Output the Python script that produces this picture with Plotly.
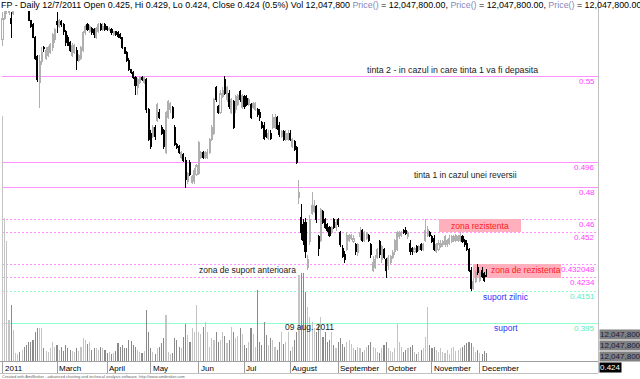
import plotly.graph_objects as go
import pandas as pd

# ---------------- data ----------------
trading_start = "2011-01-25"
trading_end = "2011-12-07"
holidays = ["2011-04-25", "2011-06-13", "2011-08-15", "2011-12-01"]

open_ = [0.573,0.586,0.591,0.590,0.586,0.589,0.593,0.596,0.601,0.598,0.602,0.598,0.595,0.585,0.582,0.574,0.562,0.546,0.559,0.568,
         0.561,0.563,0.565,0.568,0.573,0.584,0.581,0.584,0.582,0.578,0.574,0.571,0.563,0.565,0.566,0.560,0.561,0.566,0.577,0.582,
         0.578,0.580,0.579,0.574,0.578,0.582,0.579,0.582,0.581,0.579,0.579,0.576,0.578,0.577,0.576,0.574,0.568,0.565,0.560,0.554,
         0.552,0.549,0.543,0.546,0.549,0.546,0.548,0.529,0.514,0.512,0.518,0.522,0.527,0.518,0.516,0.502,0.524,0.529,0.530,0.518,
         0.507,0.506,0.499,0.501,0.497,0.484,0.496,0.483,0.484,0.488,0.489,0.499,0.502,0.499,0.499,0.502,0.510,0.514,0.543,0.531,
         0.527,0.537,0.548,0.535,0.539,0.527,0.534,0.529,0.532,0.540,0.530,0.537,0.536,0.532,0.532,0.530,0.529,0.529,0.527,0.521,
         0.519,0.516,0.511,0.514,0.518,0.518,0.524,0.519,0.512,0.515,0.510,0.510,0.514,0.506,0.509,0.505,0.474,0.461,0.457,0.458,
         0.430,0.446,0.464,0.465,0.468,0.449,0.447,0.465,0.460,0.457,0.455,0.452,0.460,0.455,0.460,0.452,0.442,0.438,0.441,0.447,
         0.448,0.446,0.444,0.439,0.449,0.453,0.447,0.448,0.450,0.444,0.428,0.430,0.436,0.446,0.435,0.441,0.435,0.431,0.433,0.436,
         0.440,0.441,0.449,0.450,0.453,0.453,0.449,0.445,0.442,0.440,0.443,0.441,0.444,0.441,0.447,0.450,0.452,0.449,0.448,0.440,
         0.441,0.443,0.444,0.444,0.444,0.445,0.446,0.447,0.447,0.447,0.447,0.449,0.447,0.445,0.441,0.428,0.417,0.421,0.430,0.422,
         0.428,0.426,0.425]
high = [0.590,0.596,0.598,0.595,0.590,0.595,0.600,0.603,0.603,0.603,0.603,0.600,0.596,0.585,0.583,0.575,0.563,0.563,0.568,0.569,
        0.568,0.569,0.571,0.577,0.580,0.590,0.586,0.585,0.583,0.579,0.576,0.572,0.571,0.570,0.568,0.564,0.569,0.578,0.582,0.583,
        0.582,0.581,0.580,0.581,0.583,0.583,0.583,0.583,0.581,0.581,0.580,0.578,0.578,0.578,0.577,0.574,0.568,0.566,0.561,0.554,
        0.553,0.550,0.549,0.550,0.550,0.550,0.549,0.530,0.516,0.519,0.519,0.533,0.529,0.519,0.517,0.528,0.535,0.534,0.531,0.519,
        0.508,0.507,0.503,0.502,0.499,0.490,0.497,0.488,0.492,0.495,0.509,0.503,0.503,0.503,0.504,0.511,0.519,0.536,0.544,0.532,
        0.541,0.543,0.550,0.544,0.541,0.536,0.535,0.538,0.539,0.541,0.539,0.538,0.538,0.536,0.533,0.534,0.534,0.530,0.529,0.522,
        0.521,0.517,0.516,0.516,0.526,0.526,0.525,0.521,0.516,0.516,0.516,0.516,0.516,0.511,0.510,0.506,0.485,0.470,0.460,0.461,
        0.438,0.463,0.477,0.472,0.469,0.450,0.467,0.466,0.461,0.458,0.456,0.456,0.461,0.460,0.461,0.453,0.444,0.440,0.452,0.451,
        0.451,0.450,0.445,0.445,0.455,0.454,0.453,0.452,0.451,0.445,0.437,0.438,0.442,0.447,0.444,0.442,0.436,0.438,0.438,0.441,
        0.448,0.453,0.453,0.453,0.454,0.455,0.453,0.447,0.443,0.443,0.444,0.444,0.445,0.445,0.460,0.456,0.453,0.450,0.450,0.445,
        0.447,0.447,0.447,0.450,0.448,0.450,0.450,0.450,0.451,0.450,0.452,0.450,0.448,0.447,0.442,0.430,0.423,0.428,0.432,0.428,
        0.430,0.427,0.429]
low = [0.569,0.585,0.589,0.588,0.574,0.588,0.592,0.595,0.596,0.596,0.595,0.593,0.585,0.580,0.574,0.560,0.546,0.530,0.557,0.565,
       0.560,0.562,0.564,0.566,0.571,0.577,0.580,0.581,0.576,0.569,0.569,0.565,0.562,0.564,0.554,0.559,0.560,0.565,0.576,0.578,
       0.577,0.576,0.574,0.573,0.577,0.578,0.578,0.578,0.578,0.578,0.576,0.575,0.575,0.574,0.573,0.567,0.564,0.559,0.553,0.551,
       0.548,0.538,0.538,0.545,0.547,0.545,0.527,0.509,0.504,0.511,0.510,0.521,0.523,0.513,0.504,0.501,0.523,0.527,0.523,0.506,
       0.504,0.501,0.498,0.496,0.480,0.482,0.487,0.482,0.482,0.487,0.488,0.498,0.498,0.498,0.498,0.501,0.509,0.513,0.534,0.526,
       0.526,0.536,0.538,0.534,0.529,0.526,0.517,0.527,0.531,0.534,0.529,0.529,0.531,0.531,0.523,0.529,0.528,0.524,0.522,0.517,
       0.510,0.511,0.510,0.510,0.517,0.517,0.516,0.512,0.511,0.509,0.509,0.509,0.509,0.505,0.503,0.495,0.470,0.447,0.444,0.436,
       0.428,0.444,0.463,0.464,0.458,0.437,0.446,0.457,0.454,0.452,0.449,0.451,0.454,0.453,0.455,0.443,0.436,0.433,0.440,0.446,
       0.447,0.445,0.438,0.437,0.447,0.446,0.446,0.447,0.446,0.436,0.427,0.429,0.435,0.436,0.433,0.435,0.423,0.428,0.432,0.435,
       0.438,0.440,0.448,0.449,0.451,0.450,0.448,0.438,0.438,0.439,0.439,0.440,0.440,0.440,0.446,0.449,0.449,0.445,0.440,0.439,
       0.440,0.442,0.443,0.443,0.443,0.444,0.445,0.446,0.446,0.446,0.446,0.445,0.443,0.440,0.427,0.415,0.416,0.420,0.425,0.421,
       0.423,0.421,0.424]
close = [0.586,0.593,0.596,0.591,0.583,0.591,0.596,0.601,0.598,0.602,0.598,0.595,0.585,0.581,0.574,0.561,0.548,0.559,0.565,0.567,
         0.566,0.568,0.570,0.576,0.579,0.582,0.585,0.582,0.578,0.571,0.569,0.566,0.569,0.569,0.560,0.563,0.568,0.577,0.581,0.579,
         0.581,0.577,0.576,0.580,0.582,0.579,0.581,0.579,0.579,0.580,0.577,0.578,0.576,0.575,0.574,0.568,0.564,0.560,0.554,0.552,
         0.549,0.544,0.548,0.549,0.548,0.549,0.529,0.510,0.506,0.518,0.512,0.532,0.524,0.514,0.506,0.527,0.534,0.533,0.524,0.507,
         0.505,0.502,0.502,0.497,0.485,0.489,0.488,0.487,0.491,0.494,0.508,0.502,0.499,0.502,0.502,0.510,0.518,0.535,0.535,0.527,
         0.539,0.541,0.539,0.543,0.531,0.535,0.518,0.537,0.538,0.535,0.538,0.531,0.532,0.535,0.524,0.533,0.533,0.526,0.524,0.518,
         0.511,0.512,0.514,0.511,0.524,0.524,0.517,0.513,0.515,0.510,0.514,0.514,0.510,0.510,0.504,0.496,0.477,0.452,0.447,0.440,
         0.435,0.460,0.469,0.469,0.460,0.442,0.466,0.458,0.455,0.453,0.450,0.455,0.455,0.458,0.457,0.444,0.437,0.435,0.450,0.450,
         0.450,0.448,0.440,0.444,0.452,0.447,0.452,0.451,0.447,0.438,0.433,0.435,0.441,0.438,0.443,0.436,0.428,0.436,0.437,0.439,
         0.447,0.452,0.452,0.452,0.452,0.451,0.452,0.440,0.440,0.442,0.440,0.443,0.441,0.444,0.453,0.454,0.450,0.446,0.441,0.444,
         0.445,0.445,0.446,0.449,0.447,0.448,0.449,0.449,0.450,0.449,0.450,0.446,0.444,0.441,0.428,0.417,0.421,0.427,0.427,0.427,
         0.424,0.422,0.424]
volume_mil = [369,216,180,62,85,47,12,11,14,17,21,24,29,29,32,44,50,50,50,20,
              15,14,19,29,21,24,17,21,15,24,19,17,15,14,19,15,21,35,31,25,
              29,17,20,19,17,21,19,17,12,14,11,12,15,27,21,24,20,19,32,30,
              24,21,17,14,12,15,77,44,19,14,11,20,21,27,35,70,14,11,12,35,
              31,21,19,36,55,39,29,50,44,85,43,41,51,59,44,21,35,31,44,29,
              32,43,38,27,32,51,44,35,38,50,41,24,20,29,50,41,21,107,29,24,
              59,39,24,35,32,21,17,29,44,25,29,44,15,21,31,43,130,133,133,104,
              82,66,59,50,44,55,66,36,44,29,32,43,24,20,29,35,25,21,29,32,
              25,20,17,21,19,14,17,21,24,29,21,19,14,12,20,24,29,19,15,14,
              19,55,29,21,14,17,19,21,24,14,11,14,17,19,36,82,24,19,21,17,
              14,19,14,12,17,11,20,21,15,17,20,21,24,27,29,27,21,14,17,12,
              11,15,12.0478]

levels_solid = [0.55, 0.496, 0.48]
levels_dotted = [0.46, 0.452, 0.432048, 0.4234]
support_dotted = [0.4151]
support_solid = [0.395]
month_names = {1: "2011", 3: "March", 4: "April", 5: "May", 6: "Jun", 7: "Jul", 8: "August",
               9: "September", 10: "October", 11: "November", 12: "December"}

# ---------------- build ----------------
dates = pd.bdate_range(trading_start, trading_end)
dates = dates[~dates.isin(pd.to_datetime(holidays))]
n = len(dates)
idx = list(range(n))
volume = [v * 1e6 for v in volume_mil]

W, H = 640, 379
ML, MR, MT, MB = 0, 42, 11, 18
PW, PH = W - ML - MR, H - MT - MB
PX_PER_BAR, X0PX = 2.18, 2.5
xr = [(0 - X0PX) / PX_PER_BAR, (PW - X0PX) / PX_PER_BAR]
PPU = 1594.0
ytop = 0.55 + (76 - MT) / PPU
yr = [ytop - PH / PPU, ytop]
vol_range = [0, 527e6]

def px_idx(px):
    return (px - X0PX) / PX_PER_BAR

def py_price(py):
    return ytop - (py - MT) / PPU

def py_paper(py):
    return (H - MB - py) / PH

font = "Liberation Sans, Arial, sans-serif"

fig = go.Figure()
vcol = ["#8a8a8a" if c < o else "#c4c4c4" for o, c in zip(open_, close)]
fig.add_trace(go.Bar(x=idx, y=volume, marker=dict(color=vcol, line=dict(width=0)),
                     width=0.5, yaxis="y", hoverinfo="skip", showlegend=False))
fig.add_trace(go.Candlestick(x=idx, open=open_, high=high, low=low, close=close, yaxis="y2",
                             increasing=dict(line=dict(color="#b0b0b0", width=1), fillcolor="#ffffff"),
                             decreasing=dict(line=dict(color="#000000", width=1), fillcolor="#000000"),
                             whiskerwidth=0, hoverinfo="skip", showlegend=False))

shapes = []
ann = []
pink_line = "#ff90ff"
pink_txt = "#ff40ff"
mint_line = "#90ffcc"
mint_txt = "#55eebb"
dot = "2px,2px"
for lv in levels_solid:
    shapes.append(dict(type="line", xref="paper", x0=0.003, x1=1, yref="y2", y0=lv, y1=lv,
                       line=dict(color=pink_line, width=1), layer="below"))
for lv in levels_dotted:
    shapes.append(dict(type="line", xref="paper", x0=0.003, x1=1, yref="y2", y0=lv, y1=lv,
                       line=dict(color=pink_line, width=1, dash=dot), layer="below"))
for lv in support_dotted:
    shapes.append(dict(type="line", xref="paper", x0=0.003, x1=1, yref="y2", y0=lv, y1=lv,
                       line=dict(color=mint_line, width=1, dash=dot), layer="below"))
for lv in support_solid:
    shapes.append(dict(type="line", xref="paper", x0=0.003, x1=1, yref="y2", y0=lv, y1=lv,
                       line=dict(color=mint_line, width=1), layer="below"))
for lv in levels_solid + levels_dotted:
    ann.append(dict(xref="paper", x=1, xanchor="right", xshift=-1, yref="y2", y=lv, yshift=-5,
                    yanchor="middle", text=f"{lv:g}", showarrow=False,
                    font=dict(family=font, size=8, color=pink_txt)))
for lv in support_dotted + support_solid:
    ann.append(dict(xref="paper", x=1, xanchor="right", xshift=-1, yref="y2", y=lv, yshift=-5,
                    yanchor="middle", text=f"{lv:g}", showarrow=False,
                    font=dict(family=font, size=8, color=mint_txt)))

# zones
zone_fill = "#ffb0bc"
shapes.append(dict(type="rect", xref="x", x0=px_idx(439), x1=px_idx(521), yref="y2",
                   y0=levels_dotted[1], y1=levels_dotted[0], fillcolor=zone_fill,
                   line=dict(width=0), layer="below"))
shapes.append(dict(type="rect", xref="x", x0=px_idx(473), x1=px_idx(561), yref="y2",
                   y0=levels_dotted[3], y1=levels_dotted[2], fillcolor=zone_fill,
                   line=dict(width=0), layer="below"))

# frame lines
shapes.append(dict(type="line", xref="paper", x0=1, x1=1, yref="paper", y0=py_paper(373), y1=py_paper(0),
                   line=dict(color="#c0c0c0", width=1)))
shapes.append(dict(type="line", xref="paper", x0=0, x1=1, yref="paper", y0=py_paper(373), y1=py_paper(373),
                   line=dict(color="#c0c0c0", width=1)))

def text(px, py, s, color="#222222", size=8.5, anchor="left"):
    ann.append(dict(xref="x", x=px_idx(px), xanchor=anchor, yref="y2", y=py_price(py), yanchor="middle",
                    text=s, showarrow=False, font=dict(family=font, size=size, color=color)))

text(365, 70, "tinta 2 - in cazul in care tinta 1 va fi depasita", size=8.8)
text(412, 175, "tinta 1 in cazul unei reversii")
text(480, 226, "zona rezistenta", color="#ff1a1a", anchor="center")
text(489, 270, "zona de rezistenta", color="#ff1a1a")
text(197, 270, "zona de suport anterioara")
text(481, 297, "suport zilnic", color="#3333ff")
text(492, 328, "suport", color="#3333ff")
text(283, 327, "09 aug. 2011")

# header
pc = "#8888bb"
hdr = ("FP - Daily 12/7/2011 Open 0.425, Hi 0.429, Lo 0.424, Close 0.424 (0.5%) Vol 12,047,800 "
       + ", ".join([f"<span style='color:{pc}'>Price()</span> = 12,047,800.00"] * 3))
ann.append(dict(xref="paper", x=0, xanchor="left", xshift=-1, yref="paper", y=py_paper(5), yanchor="middle",
                text=hdr, showarrow=False, font=dict(family=font, size=8.9, color="#000000")))
ann.append(dict(xref="paper", x=0, xanchor="left", yref="paper", y=py_paper(376.5), yanchor="middle",
                text="Created with AmiBroker - advanced charting and technical analysis software. http://www.amibroker.com",
                showarrow=False, font=dict(family=font, size=4, color="#666666")))

# right value boxes
for py in (334, 345, 356):
    ann.append(dict(xref="paper", x=1, xanchor="left", xshift=1, yref="paper", y=py_paper(py), yanchor="middle",
                    text="12,047,800.00", showarrow=False, bgcolor="#808080", borderpad=0,
                    font=dict(family=font, size=8, color="#1a1a40")))
ann.append(dict(xref="paper", x=1, xanchor="left", xshift=1, yref="paper", y=py_paper(367), yanchor="middle",
                text=f"{close[-1]:.3f}", showarrow=False, bgcolor="#000000", borderpad=0,
                font=dict(family=font, size=8, color="#ffffff")))

# month ticks
tickvals, ticktext = [], []
for i, d in enumerate(dates):
    if i == 0 or d.month != dates[i - 1].month:
        key = 1 if i == 0 else d.month
        if key in month_names:
            tickvals.append(i)
            ticktext.append(month_names[key])
for tv, tt in zip(tickvals, ticktext):
    ann.append(dict(xref="x", x=tv, xanchor="left", xshift=0, yref="paper", y=py_paper(368), yanchor="middle",
                    text=tt, showarrow=False, font=dict(family=font, size=8, color="#000000")))

fig.update_layout(
    width=W, height=H, margin=dict(l=ML, r=MR, t=MT, b=MB),
    paper_bgcolor="white", plot_bgcolor="white", showlegend=False,
    xaxis=dict(range=xr, showgrid=False, zeroline=False, showline=True, linecolor="#a0a0a0",
               ticks="outside", tickvals=tickvals, ticklen=11, tickcolor="#a0a0a0",
               showticklabels=False, rangeslider=dict(visible=False), fixedrange=True),
    yaxis=dict(range=vol_range, visible=False, fixedrange=True),
    yaxis2=dict(range=yr, overlaying="y", side="right", visible=False, fixedrange=True),
    shapes=shapes, annotations=ann, bargap=0,
)
post = ("document.body.style.margin='0';document.body.style.overflow='hidden';"
        "document.querySelectorAll('.shapelayer path, .boxlayer path').forEach(function(p){p.style.shapeRendering='crispEdges';});")
fig.write_html("out.html", config={"displayModeBar": False, "staticPlot": True}, post_script=post)
